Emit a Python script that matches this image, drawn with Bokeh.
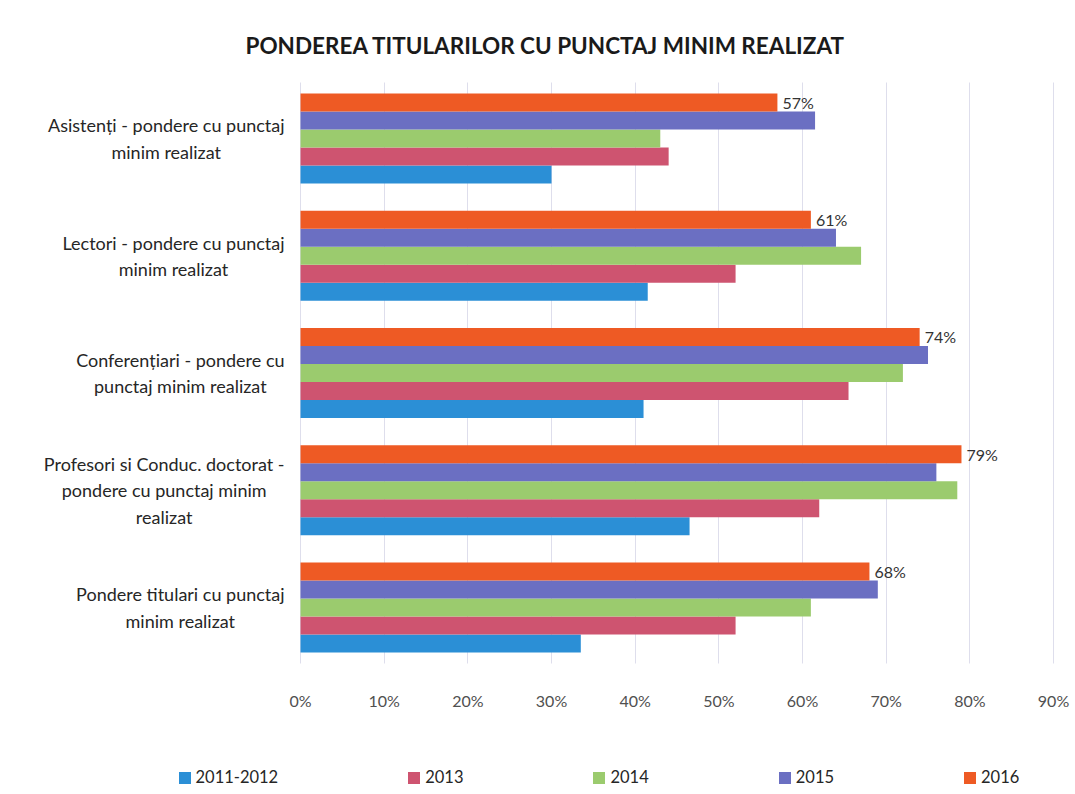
from bokeh.plotting import figure
from bokeh.models import ColumnDataSource, Range1d, FixedTicker, Grid, Legend, LegendItem
from bokeh.transform import dodge
from bokeh.core.properties import value
from bokeh.embed import file_html
from bokeh.resources import INLINE

title = "PONDEREA TITULARILOR CU PUNCTAJ MINIM REALIZAT"

# categories listed top to bottom as in the chart
categories = [
    "Asistenți - pondere cu punctaj\nminim realizat",
    "Lectori - pondere cu punctaj\nminim realizat",
    "Conferențiari - pondere cu\npunctaj minim realizat",
    "Profesori si Conduc. doctorat -\npondere cu punctaj minim\nrealizat",
    "Pondere titulari cu punctaj\nminim realizat",
]

series_names = ["2011-2012", "2013", "2014", "2015", "2016"]
s2011_2012 = [30, 41.5, 41, 46.5, 33.5]
s2013 = [44, 52, 65.5, 62, 52]
s2014 = [43, 67, 72, 78.5, 61]
s2015 = [61.5, 64, 75, 76, 69]
s2016 = [57, 61, 74, 79, 68]
series_values = [s2011_2012, s2013, s2014, s2015, s2016]
colors = ["#2B8FD6", "#CE5470", "#9BCB6E", "#6B6FC2", "#EE5A24"]

x_ticks = [0, 10, 20, 30, 40, 50, 60, 70, 80, 90]
x_tick_labels = [f"{t}%" for t in x_ticks]

FONT = "Lato"

# category slots: top category at the highest position
n = len(categories)
cat_pos = [n - 1 - i for i in range(n)]

p = figure(
    width=1072, height=786,
    x_range=Range1d(-35.86, 92.27),
    y_range=Range1d(-1.527, 4.665),
    x_axis_location=None, y_axis_location=None,
    output_backend="svg", toolbar_location=None,
    min_border_left=0, min_border_right=0,
    min_border_top=60, min_border_bottom=0,
)
p.grid.visible = False
p.outline_line_color = None

p.title.text = title
p.title.text_font = FONT
p.title.text_font_size = "22.5px"
p.title.text_font_style = "bold"
p.title.text_color = "#1a1a1a"
p.title.align = "left"
p.title.offset = 245
p.title.standoff = 4

# vertical grid lines at the tick values, spanning the category band
grid = Grid(dimension=0, ticker=FixedTicker(ticks=x_ticks), cross_bounds=(-0.48, n - 1 + 0.48),
            grid_line_color="#DEDEEC", grid_line_width=1)
p.add_layout(grid)

bar_h = 0.1535
offsets = [-2 * bar_h, -bar_h, 0, bar_h, 2 * bar_h]
renderers = []
for name, vals, col, off in zip(series_names, series_values, colors, offsets):
    src = ColumnDataSource(dict(pos=cat_pos, v=vals))
    r = p.hbar(y=dodge("pos", off), left=0, right="v", height=bar_h,
               source=src, fill_color=col, line_color=None)
    renderers.append((name, r))

# data labels for 2016
lbl_src = ColumnDataSource(dict(pos=cat_pos, v=s2016, t=[f"{round(v)}%" for v in s2016]))
p.text(x="v", y=dodge("pos", offsets[4]), text="t", source=lbl_src,
       x_offset=5, text_align="left", text_baseline="middle",
       text_font=value(FONT), text_font_size="16px", text_color="#333333")

# category labels (right-aligned block, centred lines)
cat_src = ColumnDataSource(dict(pos=cat_pos, t=categories, x0=[0] * n))
p.text(x="x0", y="pos", text="t", source=cat_src,
       x_offset=-16, anchor=value("center_right"), text_align="center", text_baseline="middle",
       text_line_height=1.2,
       text_font=value(FONT), text_font_size="18px", text_color="#262626")

# x tick labels below the grid
tick_src = ColumnDataSource(dict(x=x_ticks, t=x_tick_labels, y=[-0.48] * len(x_ticks)))
p.text(x="x", y="y", text="t", source=tick_src,
       y_offset=37, text_align="center", text_baseline="middle",
       text_font=value(FONT), text_font_size="16px", text_color="#505050")

legend = Legend(
    items=[LegendItem(label=nm, renderers=[r]) for nm, r in renderers],
    orientation="horizontal", location=(176.5, -1),
    glyph_width=15, glyph_height=15, label_height=20, label_standoff=4, spacing=128,
    padding=0, margin=0, border_line_color=None, background_fill_alpha=0,
    label_text_font=FONT, label_text_font_size="16.5px", label_text_color="#262626",
)
p.add_layout(legend, "center")

open("out.html", "w").write(file_html(p, INLINE))
